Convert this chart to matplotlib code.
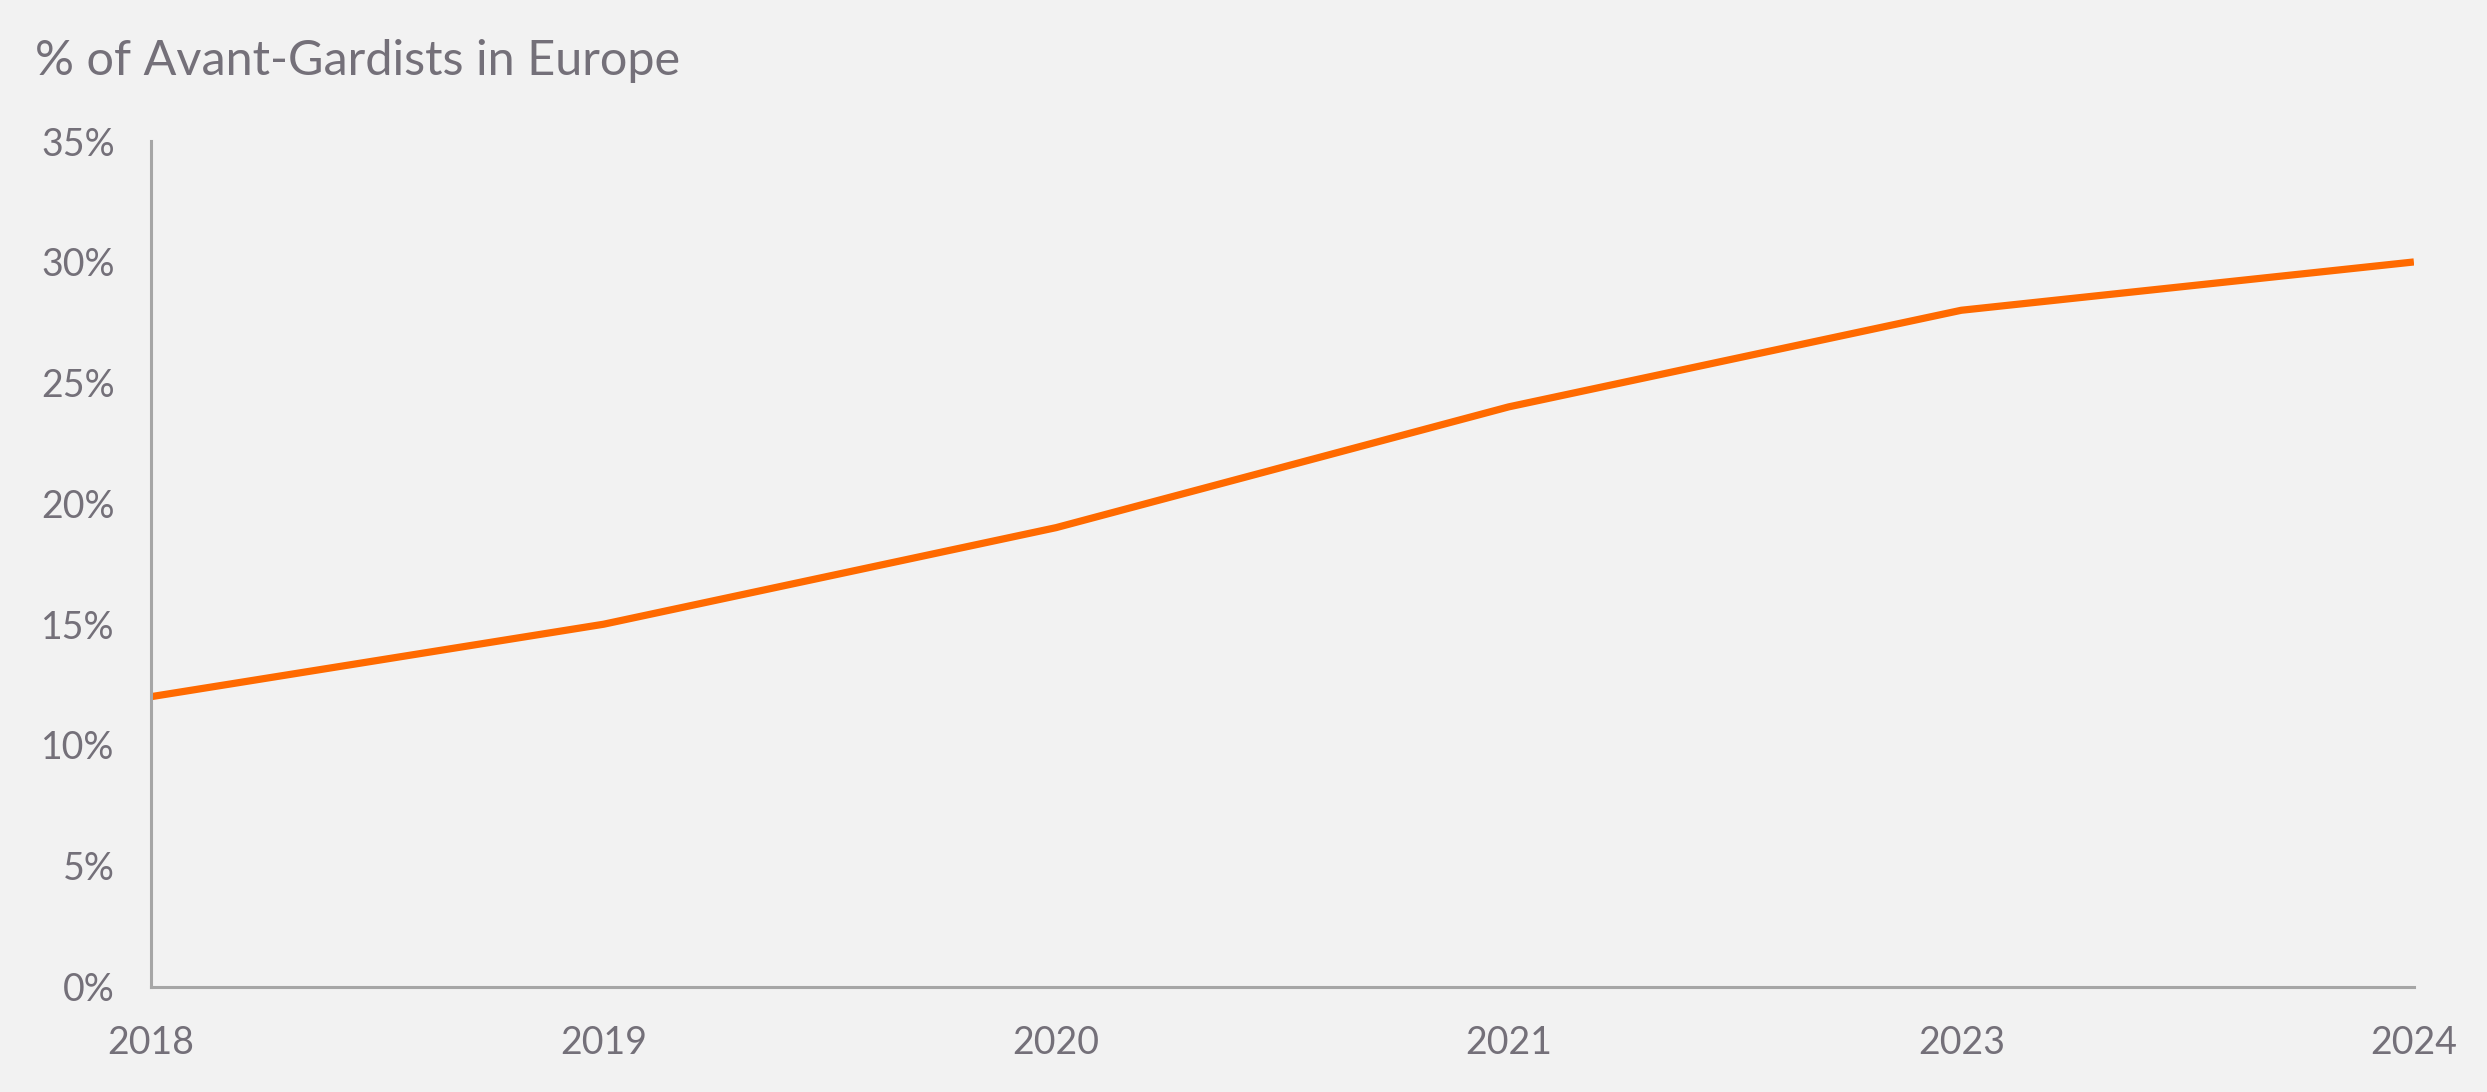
# % of Avant-Gardists in Europe, line chart

import matplotlib.pyplot as plt
from matplotlib.ticker import FuncFormatter

years = ['2018', '2019', '2020', '2021', '2023', '2024']
share = [0.12, 0.15, 0.19, 0.24, 0.28, 0.30]

bg = '#f2f2f2'
text_col = '#747079'
spine_col = '#a6a6a6'
line_col = '#ff6a00'

plt.rcParams['font.family'] = ['Lato', 'DejaVu Sans']

fig = plt.figure(figsize=(24.87, 10.92), dpi=100, facecolor=bg)
ax = fig.add_axes([0.0607, 0.0966, 0.9099, 0.7741], facecolor=bg)

x = range(len(years))
ax.plot(x, share, color=line_col, lw=5.2, solid_capstyle='butt')

ax.set_xlim(0, len(years) - 1)
ax.set_ylim(0, 0.35)
ax.set_xticks(list(x))
ax.set_xticklabels(years)
ax.set_yticks([i * 0.05 for i in range(8)])
ax.yaxis.set_major_formatter(FuncFormatter(lambda v, p: '{0:.0f}%'.format(v * 100)))

for s in ['top', 'right']:
    ax.spines[s].set_visible(False)
for s in ['left', 'bottom']:
    ax.spines[s].set_color(spine_col)
    ax.spines[s].set_linewidth(2.2)

ax.tick_params(axis='both', length=0, labelsize=27, colors=text_col)
ax.tick_params(axis='x', pad=28)
ax.tick_params(axis='y', pad=26)

fig.text(0.014, 0.944, '% of Avant-Gardists in Europe', fontsize=35,
         color=text_col, ha='left', va='center')

fig.savefig('out.png', dpi=100, facecolor=bg)
